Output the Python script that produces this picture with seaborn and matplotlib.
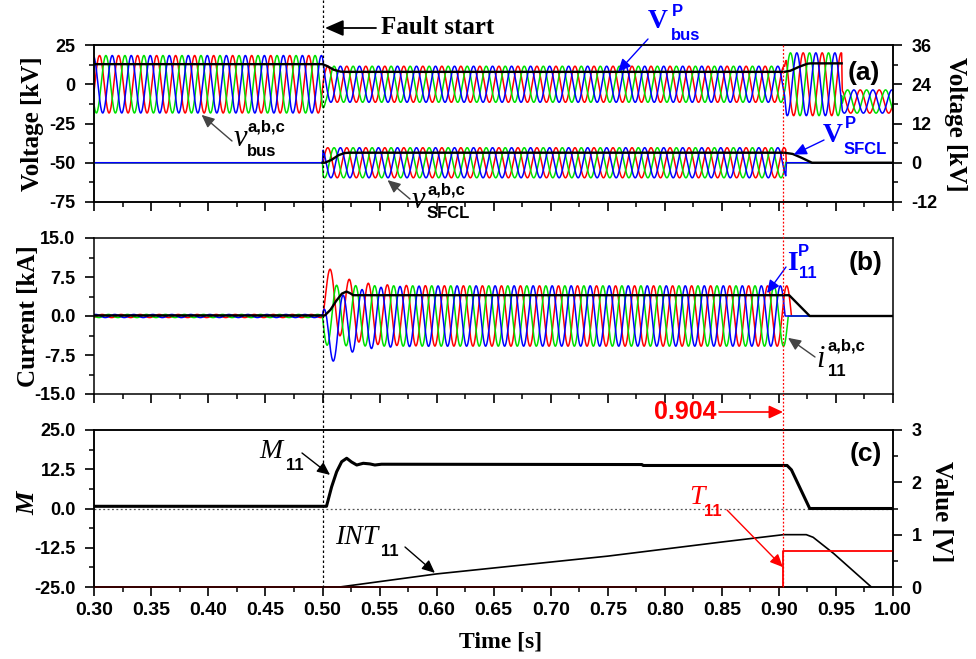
import numpy as np
import pandas as pd
import matplotlib
matplotlib.use("Agg")
import matplotlib.pyplot as plt
import seaborn as sns
from matplotlib.ticker import MultipleLocator, FormatStrFormatter
from matplotlib.transforms import blended_transform_factory
from matplotlib.lines import Line2D

# ---------------- data ----------------
FREQ_HZ = 60.0
PHASE_NAMES = ["a", "b", "c"]
PHASE_LAG_CYC = [0.0, 1 / 3, 2 / 3]
PHASE_COLORS = ["#ff0000", "#00e000", "#0000ff"]

FAULT_T = 0.500      # "Fault start"
BREAKER_T = 0.904    # red marker

# (a) bus voltage [kV] (left axis): envelope breakpoints
vbus_env_t = [0.300, 0.500, 0.5025, 0.905, 0.9065, 0.955, 0.9555, 1.000]
vbus_env_amp = [18.3, 18.3, 11.5, 11.5, 20.0, 20.0, 7.4, 7.4]
vbus_env_off = [0.0, 0.0, 0.0, 0.0, 0.0, 0.0, -11.0, -11.0]
vbus_peak_t = 0.5046
vbus_rms_t = [0.300, 0.500, 0.504, 0.510, 0.516, 0.520, 0.905, 0.910, 0.918, 0.925, 0.928, 0.955]
vbus_rms = [12.8, 12.8, 11.6, 9.2, 8.0, 7.9, 7.9, 8.6, 11.2, 13.1, 13.3, 13.3]

# (a) SFCL voltage [kV] (right axis)
vsfcl_env_t = [0.300, 0.500, 0.5005, 0.906, 0.9065, 1.000]
vsfcl_env_amp = [0.0, 0.0, 4.6, 4.6, 0.0, 0.0]
vsfcl_peak_t = 0.5046
vsfcl_rms_t = [0.500, 0.502, 0.508, 0.514, 0.519, 0.523, 0.905, 0.912, 0.920, 0.929, 1.000]
vsfcl_rms = [0.0, 0.0, 0.9, 2.3, 2.95, 3.07, 3.07, 2.7, 1.5, 0.0, 0.0]

# (b) line current [kA]
i_env_t = [0.300, 0.500, 0.5001, 1.000]
i_env_amp = [0.3, 0.3, 5.8, 5.8]
i_peak_t = 0.5235
i_dc_tau = 0.018
i_cut_t = [0.911, 0.908, 0.9055]
i_rms_t = [0.300, 0.502, 0.507, 0.512, 0.517, 0.521, 0.524, 0.527, 0.909, 0.927, 1.000]
i_rms = [0.1, 0.1, 1.2, 2.9, 4.3, 4.7, 4.4, 4.0, 4.0, 0.0, 0.0]

# (c) M11 (left axis), INT11 and T11 (right axis, V)
m11_t = [0.300, 0.5035, 0.508, 0.5124, 0.5168, 0.5212, 0.5255, 0.530, 0.5357, 0.5415,
         0.5459, 0.5517, 0.780, 0.781, 0.9072, 0.911, 0.927, 1.000]
m11 = [0.7, 0.7, 6.9, 11.7, 14.9, 16.0, 14.8, 13.85, 14.4, 14.2,
       13.85, 14.1, 14.0, 13.7, 13.7, 12.3, 0.0, 0.0]
int11_t = [0.515, 0.600, 0.750, 0.850, 0.904, 0.924, 0.930, 0.948, 0.981]
int11 = [0.00, 0.25, 0.59, 0.86, 1.00, 1.00, 0.95, 0.64, 0.00]
t11_t = [0.300, 0.904, 0.904, 1.000]
t11 = [0.0, 0.0, 0.68, 0.68]

# ---------------- waveform helpers ----------------
t = np.arange(0.300, 1.0000001, 0.0002)


def three_phase(env_t, env_amp, peak_t, env_off=None, cut=None, dc_tau=None, fault_t=None):
    amp = np.interp(t, env_t, env_amp)
    off = np.interp(t, env_t, env_off) if env_off is not None else 0.0
    frames = []
    for k, (name, lag) in enumerate(zip(PHASE_NAMES, PHASE_LAG_CYC)):
        theta = 2 * np.pi * FREQ_HZ * (t - peak_t) + np.pi / 2 - 2 * np.pi * lag
        y = amp * np.sin(theta) + off
        if dc_tau is not None:
            th0 = 2 * np.pi * FREQ_HZ * (fault_t - peak_t) + np.pi / 2 - 2 * np.pi * lag
            a_pre = np.interp(fault_t - 1e-6, env_t, env_amp)
            a_post = np.interp(fault_t + 0.01, env_t, env_amp)
            dc = -(a_post - a_pre) * np.sin(th0)
            y = y + np.where(t >= fault_t, dc * np.exp(-(t - fault_t) / dc_tau), 0.0)
        if cut is not None:
            y = np.where(t < cut[k], y, 0.0)
        frames.append(pd.DataFrame({"t": t, "y": y, "phase": name}))
    return pd.concat(frames, ignore_index=True)


df_vbus = three_phase(vbus_env_t, vbus_env_amp, vbus_peak_t, env_off=vbus_env_off)
df_vsfcl = three_phase(vsfcl_env_t, vsfcl_env_amp, vsfcl_peak_t)
df_i = three_phase(i_env_t, i_env_amp, i_peak_t, cut=i_cut_t, dc_tau=i_dc_tau, fault_t=FAULT_T)

palette = dict(zip(PHASE_NAMES, PHASE_COLORS))

# ---------------- figure ----------------
plt.rcParams["font.family"] = ["Liberation Sans", "DejaVu Sans"]
plt.rcParams["font.weight"] = "bold"
plt.rcParams["axes.unicode_minus"] = False
plt.rcParams["axes.linewidth"] = 1.1

W, H = 976, 659
fig = plt.figure(figsize=(W / 100, H / 100), dpi=100)
L, Wd = 94.3 / W, 798.7 / W
ax_a = fig.add_axes([L, (H - 202) / H, Wd, 157 / H])
ax_b = fig.add_axes([L, (H - 394) / H, Wd, 156 / H], sharex=ax_a)
ax_c = fig.add_axes([L, (H - 587) / H, Wd, 157 / H], sharex=ax_a)
ax_a2 = ax_a.twinx()
ax_c2 = ax_c.twinx()

LW = 1.1
# (a)
sns.lineplot(data=df_vbus, x="t", y="y", hue="phase", palette=palette, estimator=None,
             sort=False, legend=False, lw=LW, ax=ax_a)
sns.lineplot(x=vbus_rms_t, y=vbus_rms, color="k", lw=1.7, estimator=None, sort=False, ax=ax_a)
sns.lineplot(data=df_vsfcl, x="t", y="y", hue="phase", palette=palette, estimator=None,
             sort=False, legend=False, lw=LW, ax=ax_a2)
sns.lineplot(x=vsfcl_rms_t, y=vsfcl_rms, color="k", lw=1.7, estimator=None, sort=False, ax=ax_a2)
# (b)
sns.lineplot(data=df_i, x="t", y="y", hue="phase", palette=palette, estimator=None,
             sort=False, legend=False, lw=LW, ax=ax_b)
sns.lineplot(x=i_rms_t, y=i_rms, color="k", lw=1.7, estimator=None, sort=False, ax=ax_b)
# (c)
ax_c.axhline(0, color="#555555", lw=0.9, ls=(0, (1.5, 2.0)), zorder=1)
sns.lineplot(x=m11_t, y=m11, color="k", lw=2.2, estimator=None, sort=False, ax=ax_c)
sns.lineplot(x=int11_t, y=int11, color="k", lw=1.2, estimator=None, sort=False, ax=ax_c2)
sns.lineplot(x=t11_t, y=t11, color="#ff0000", lw=1.3, estimator=None, sort=False, ax=ax_c2,
             clip_on=False)

# ---------------- axes styling ----------------
ax_a.set_xlim(0.30, 1.00)
ax_a.set_ylim(-75, 25)
ax_a2.set_ylim(-12, 36)
ax_b.set_ylim(-15, 15)
ax_c.set_ylim(-25, 25)
ax_c2.set_ylim(0, 3)

for ax in (ax_a, ax_b, ax_c, ax_a2, ax_c2):
    ax.set_xlabel("")
    ax.set_ylabel("")
    for s in ax.spines.values():
        s.set_linewidth(1.1)
        s.set_color("k")

for ax in (ax_a, ax_b, ax_c):
    ax.xaxis.set_major_locator(MultipleLocator(0.05))
    ax.xaxis.set_minor_locator(MultipleLocator(0.025))
    ax.xaxis.set_major_formatter(FormatStrFormatter("%.2f"))
    ax.tick_params(axis="x", which="major", direction="out", length=6.5, width=1.2,
                   labelsize=14, pad=4, top=False)
    ax.tick_params(axis="x", which="minor", direction="out", length=3.5, width=1.1, top=False)
    ax.tick_params(axis="y", which="major", direction="out", length=6.5, width=1.2,
                   labelsize=13, pad=7, right=False)
    ax.tick_params(axis="y", which="minor", direction="out", length=3.5, width=1.1, right=False)
ax_a.tick_params(axis="x", labelbottom=False)
ax_b.tick_params(axis="x", labelbottom=False)

ax_a.yaxis.set_major_locator(MultipleLocator(25))
ax_a.yaxis.set_minor_locator(MultipleLocator(12.5))
ax_a.yaxis.set_major_formatter(FormatStrFormatter("%d"))
ax_b.yaxis.set_major_locator(MultipleLocator(7.5))
ax_b.yaxis.set_minor_locator(MultipleLocator(3.75))
ax_b.yaxis.set_major_formatter(FormatStrFormatter("%.1f"))
ax_c.yaxis.set_major_locator(MultipleLocator(12.5))
ax_c.yaxis.set_minor_locator(MultipleLocator(6.25))
ax_c.yaxis.set_major_formatter(FormatStrFormatter("%.1f"))

ax_a2.yaxis.set_major_locator(MultipleLocator(12))
ax_a2.yaxis.set_minor_locator(MultipleLocator(6))
ax_a2.yaxis.set_major_formatter(FormatStrFormatter("%d"))
ax_c2.yaxis.set_major_locator(MultipleLocator(1))
ax_c2.yaxis.set_minor_locator(MultipleLocator(0.5))
ax_c2.yaxis.set_major_formatter(FormatStrFormatter("%d"))
for ax in (ax_a2, ax_c2):
    ax.tick_params(axis="y", which="major", direction="out", length=6.5, width=1.2,
                   labelsize=13, pad=7, left=False, right=True)
    ax.tick_params(axis="y", which="minor", direction="out", length=3.5, width=1.1,
                   left=False, right=True)

for lab in ax_c.get_xticklabels() + [l for a in (ax_a, ax_b, ax_c, ax_a2, ax_c2) for l in a.get_yticklabels()]:
    lab.set_fontweight("bold")

# ---------------- vertical marker lines ----------------
tr = blended_transform_factory(ax_c.transData, fig.transFigure)
fig.add_artist(Line2D([FAULT_T, FAULT_T], [1.0, (H - 587) / H], transform=tr, color="k",
                      lw=0.9, ls=(0, (2, 2))))
fig.add_artist(Line2D([BREAKER_T, BREAKER_T], [(H - 45) / H, (H - 587) / H], transform=tr,
                      color="#ff0000", lw=0.9, ls=(0, (1.5, 1.5))))

# ---------------- text helpers ----------------
SERIF = ["Liberation Serif", "DejaVu Serif"]
SANS = ["Liberation Sans", "DejaVu Sans"]


def fp(px, py):
    return (px / W, 1 - py / H)


def txt(px, py, s, size, color="k", family=SANS, style="normal", weight="bold", rot=0):
    fig.text(px / W, 1 - py / H, s, ha="center", va="center", fontsize=size, color=color,
             family=family, style=style, weight=weight, rotation=rot)


def arrow(ax, xy, tail_px, color, coords="data", hl=0.55, hw=0.25, lw=1.0):
    ax.annotate("", xy=xy, xycoords=coords, xytext=fp(*tail_px), textcoords="figure fraction",
                arrowprops=dict(arrowstyle=f"-|>,head_length={hl},head_width={hw}",
                                color=color, lw=lw, shrinkA=0, shrinkB=0, mutation_scale=14),
                annotation_clip=False)


# axis labels
txt(33, 124, "Voltage [kV]", 18, family=SERIF, rot=90)
txt(29, 316, "Current [kA]", 18, family=SERIF, rot=90)
txt(28, 503, "M", 19, family=SERIF, style="italic", rot=90)
txt(955, 124, "Voltage [kV]", 18, family=SERIF, rot=270)
txt(942, 512, "Value [V]", 18, family=SERIF, rot=270)
txt(501, 642, "Time [s]", 17, family=SERIF)

# panel tags
txt(864, 73, "(a)", 19)
txt(866, 263, "(b)", 19)
txt(866, 454, "(c)", 19)

# fault start
txt(438, 27, "Fault start", 18, family=SERIF)
arrow(ax_a, fp(325, 28), (376, 28), "k", coords="figure fraction", hl=0.8, hw=0.35, lw=1.3)

# 0.904 marker
txt(685, 412, "0.904", 18, color="#ff0000")
arrow(ax_b, fp(783, 412), (719, 412), "#ff0000", coords="figure fraction", hl=0.6, hw=0.28, lw=1.2)

# v_bus^{a,b,c}
txt(240, 138, "v", 22, family=SERIF, style="italic", weight="normal")
txt(266, 127, "a,b,c", 12)
txt(262, 152, "bus", 12)
arrow(ax_a, (0.394, -19.5), (232, 141), "#444444")

# v_SFCL^{a,b,c}
txt(418, 200, "v", 22, family=SERIF, style="italic", weight="normal")
txt(446, 190, "a,b,c", 12)
txt(448, 214, "SFCL", 12)
arrow(ax_a2, (0.557, -5.3), (410, 199), "#444444")

# V_bus^P
txt(658, 22, "V", 20, color="#0000ff", family=SERIF)
txt(677, 12, "P", 12, color="#0000ff")
txt(686, 36, "bus", 12, color="#0000ff")
arrow(ax_a, (0.759, 7.9), (648, 39), "#0000ff")

# V_SFCL^P
txt(833, 135, "V", 20, color="#0000ff", family=SERIF)
txt(850, 124, "P", 12, color="#0000ff")
txt(865, 150, "SFCL", 12, color="#0000ff")
arrow(ax_a2, (0.913, 2.5), (824, 140), "#0000ff")

# I_11^P
txt(792, 263, "I", 20, color="#0000ff", family=SERIF)
txt(803, 251, "P", 12, color="#0000ff")
txt(808, 274, "11", 12, color="#0000ff")
arrow(ax_b, (0.8896, 4.4), (786, 267), "#0000ff")

# i_11^{a,b,c}
txt(821, 360, "i", 22, family=SERIF, style="italic", weight="normal")
txt(846, 346, "a,b,c", 12)
txt(837, 371, "11", 12)
arrow(ax_b, (0.908, -4.2), (815, 357), "#444444")

# M_11
txt(271, 452, "M", 20, family=SERIF, style="italic", weight="normal")
txt(295, 466, "11", 12)
arrow(ax_c, (0.5066, 10.7), (302, 453), "k")

# INT_11
txt(357, 538, "INT", 20, family=SERIF, style="italic", weight="normal")
txt(390, 552, "11", 12)
arrow(ax_c2, (0.5985, 0.27), (405, 547), "k")

# T_11
txt(697, 498, "T", 20, color="#ff0000", family=SERIF, style="italic", weight="normal")
txt(713, 512, "11", 12, color="#ff0000")
arrow(ax_c2, (0.9035, 0.38), (727, 510), "#ff0000")

fig.savefig("out.png", dpi=100)
